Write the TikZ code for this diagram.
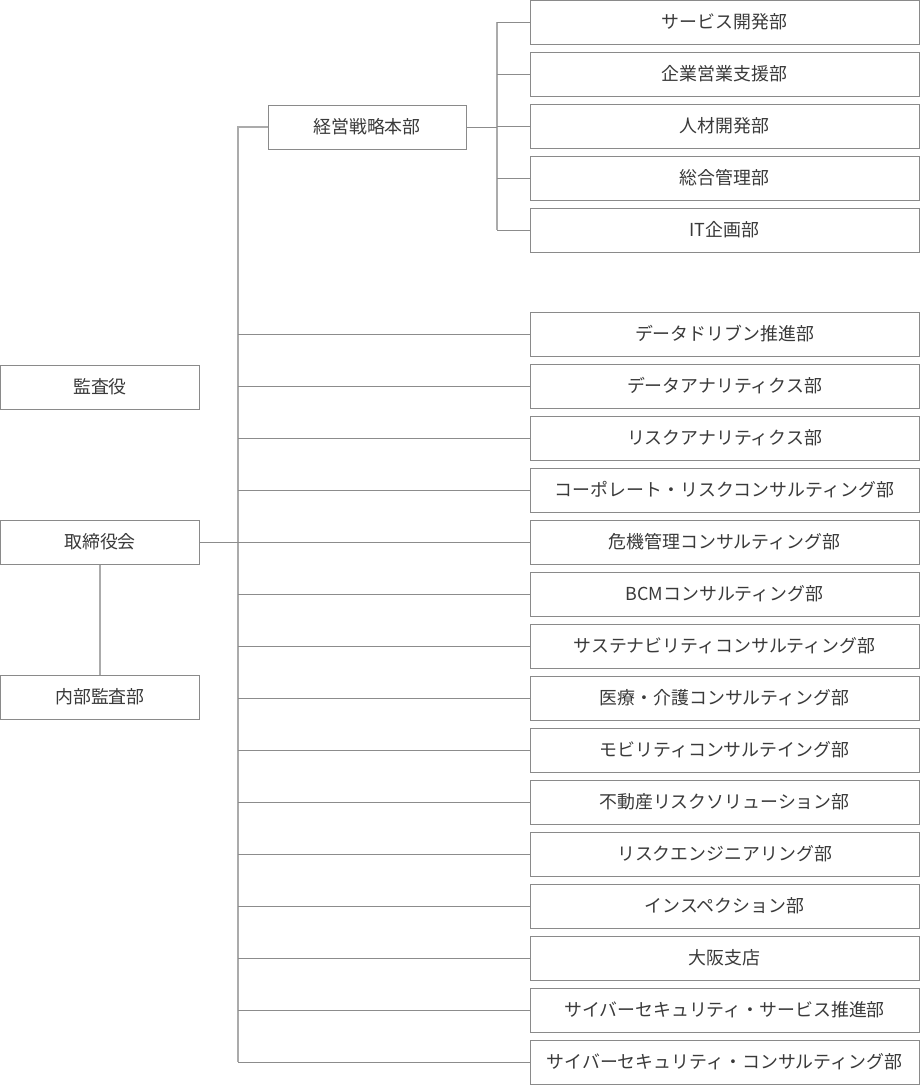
\documentclass[tikz,border=0pt]{standalone}
\usepackage{fontspec}
\setmainfont{Noto Sans CJK JP}
\begin{document}
\begin{tikzpicture}[x=1pt,y=-1pt,
  box/.style={draw=boxc, line width=1pt, fill=white, inner sep=0pt, minimum height=44pt, text=txtc, font=\fontsize{17.9}{20}\selectfont},
  rbox/.style={box, minimum width=389pt},
  lbox/.style={box, minimum width=199pt},
  trunk/.style={draw=trunkc, line width=1.3pt},
  branch/.style={draw=branchc, line width=0.9pt}]
\definecolor{boxc}{HTML}{8A8A8A}
\definecolor{txtc}{HTML}{3A3A3A}
\definecolor{trunkc}{HTML}{ABABAB}
\definecolor{branchc}{HTML}{8C8C8C}
\useasboundingbox (0,0) rectangle (920,1085);
% left column
\node[lbox] (kansa) at (100,387) {監査役};
\node[lbox] (board) at (100,542) {取締役会};
\node[lbox] (naibu) at (100,697) {内部監査部};
% strategy HQ
\node[box, minimum width=198pt] (hq) at (367,127) {経営戦略本部};
% top group
\node[rbox] (t1) at (724.5,22) {サービス開発部};
\node[rbox] (t2) at (724.5,74) {企業営業支援部};
\node[rbox] (t3) at (724.5,126) {人材開発部};
\node[rbox] (t4) at (724.5,178) {総合管理部};
\node[rbox] (t5) at (724.5,230) {IT企画部};
% lower group
\node[rbox] (b1) at (724.5,334) {データドリブン推進部};
\node[rbox] (b2) at (724.5,386) {データアナリティクス部};
\node[rbox] (b3) at (724.5,438) {リスクアナリティクス部};
\node[rbox] (b4) at (724.5,490) {コーポレート・リスクコンサルティング部};
\node[rbox] (b5) at (724.5,542) {危機管理コンサルティング部};
\node[rbox] (b6) at (724.5,594) {BCMコンサルティング部};
\node[rbox] (b7) at (724.5,646) {サステナビリティコンサルティング部};
\node[rbox] (b8) at (724.5,698) {医療・介護コンサルティング部};
\node[rbox] (b9) at (724.5,750) {モビリティコンサルテイング部};
\node[rbox] (b10) at (724.5,802) {不動産リスクソリューション部};
\node[rbox] (b11) at (724.5,854) {リスクエンジニアリング部};
\node[rbox] (b12) at (724.5,906) {インスペクション部};
\node[rbox] (b13) at (724.5,958) {大阪支店};
\node[rbox] (b14) at (724.5,1010) {サイバーセキュリティ・サービス推進部};
\node[rbox] (b15) at (724.5,1062) {サイバーセキュリティ・コンサルティング部};
% coordinates
\coordinate (tr) at (238,127);
\coordinate (br) at (497,127);
% connectors
\draw[trunk] (board.south) -- (naibu.north);
\draw[trunk] (hq.west) -- (tr) -- (tr |- b15.west);
\draw[branch] (board.east) -- (b5.west);
\foreach \i in {1,2,3,4,6,7,8,9,10,11,12,13,14,15}{
  \draw[branch] (tr |- b\i.west) -- (b\i.west);
}
\draw[trunk] (br |- t1.west) -- (br |- t5.west);
\draw[branch] (hq.east) -- (br);
\foreach \i in {1,...,5}{
  \draw[branch] (br |- t\i.west) -- (t\i.west);
}
\end{tikzpicture}
\end{document}
